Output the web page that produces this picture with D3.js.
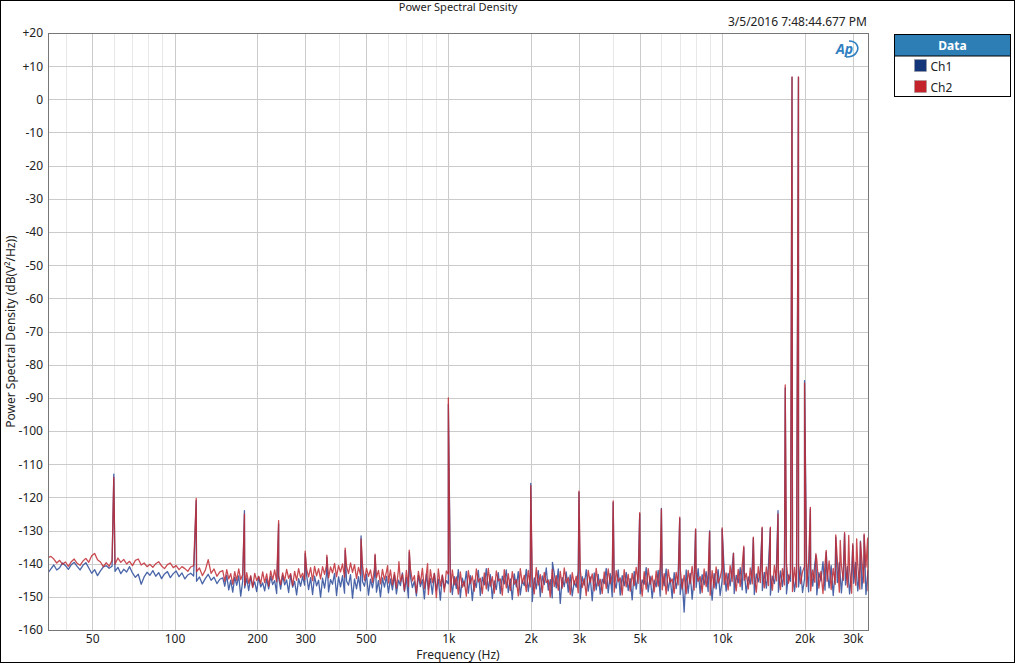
<!DOCTYPE html>
<html>
<head>
<meta charset="utf-8">
<script src="https://cdn.jsdelivr.net/npm/d3@7"></script>
<style>
  body { margin: 0; background: #fff; }
  text { font-family: "Noto Sans", "DejaVu Sans", sans-serif; fill: #222; }
</style>
</head>
<body>
<script>
// frequency span of the plot and the edges of the noise floor segments (Hz)
var freqDomain = [34.5, 34100];
var segmentEdges = [34.5, 150, 1000, 10000, 20000, 34100];

// noise floor, one array per segment, dB(V²/Hz)
var ch1Low = [-142.8,-141.6,-140.4,-141.9,-141.2,-139.8,-140.6,-141.7,-140.3,-139.6,
  -140.8,-141.9,-140.5,-139.7,-141.3,-142.9,-141.8,-143.6,-142.2,-141.0,
  -140.6,-141.4,-140.8,-142.3,-141.1,-143.0,-141.7,-142.5,-140.9,-142.8,
  -144.1,-143.2,-146.2,-144.0,-142.6,-143.5,-142.1,-143.8,-142.7,-144.5,
  -143.1,-142.4,-144.2,-143.0,-142.2,-143.9,-142.8,-144.6,-143.4,-142.9,
  -143.7,-145.3,-144.0,-146.1,-144.5,-143.2,-145.0,-144.1,-146.0,-144.7];
var ch2Low = [-138.2,-137.8,-138.6,-139.8,-139.0,-140.2,-139.5,-140.8,-139.4,-138.6,
  -139.9,-140.5,-139.2,-138.4,-139.6,-137.6,-136.9,-138.8,-139.5,-140.9,
  -139.7,-140.8,-139.0,-140.2,-138.3,-139.6,-138.7,-140.1,-139.3,-140.6,
  -139.0,-138.6,-140.4,-139.8,-140.9,-140.2,-141.1,-140.0,-139.4,-140.7,
  -141.5,-140.3,-139.8,-141.2,-140.6,-141.8,-140.9,-141.5,-142.3,-141.0,
  -140.6,-142.4,-141.3,-143.6,-142.0,-138.8,-142.9,-141.6,-143.8,-142.5];

var ch1Mid = [-144.3,-146.8,-143.5,-147.9,-145.0,-148.6,-144.1,-146.5,-143.7,-149.8,
  -145.2,-147.3,-144.4,-148.1,-143.9,-146.9,-145.5,-148.4,-144.0,-147.0,
  -145.8,-148.2,-144.6,-147.6,-143.8,-146.3,-145.1,-149.0,-144.2,-147.7,
  -143.6,-146.4,-144.9,-148.7,-143.4,-147.1,-145.3,-149.4,-144.5,-146.8,-143.9,
  -146.5,-143.5,-147.8,-144.2,-149.3,-143.8,-146.7,-145.0,-150.1,-144.4,
  -147.4,-143.1,-148.5,-144.8,-146.2,-142.9,-149.6,-144.0,-147.0,-143.6,
  -148.9,-145.2,-146.5,-143.3,-150.4,-144.6,-147.6,-143.9,-148.2,-145.4,
  -146.8,-143.2,-149.5,-144.7,-147.3,-143.7,-148.6,-145.1,-150.0,-144.3,
  -147.1,-143.8,-148.8,
  -144.6,-147.9,-143.4,-149.1,-145.0,-146.6,-142.8,-148.4,-144.2,-150.3,
  -143.9,-147.2,-145.3,-149.7,-143.5,-146.9,-144.8,-150.6,-143.1,-147.8,
  -144.5,-149.2,-142.9,-148.0,-144.7,-151.0,-143.6,-147.4,-145.1];
var ch2Mid = [-142.1,-145.3,-141.8,-144.6,-143.0,-146.2,-142.4,-145.0,-141.6,-144.8,
  -143.3,-146.5,-142.7,-145.9,-143.6,-147.2,-142.9,-145.1,-143.8,-146.0,
  -142.5,-145.7,-143.1,-146.8,-142.2,-144.9,-141.9,-145.4,-143.5,-146.3,
  -142.8,-145.2,-141.7,-144.4,-143.0,-146.6,-142.3,-145.0,-141.5,-144.2,-142.9,
  -144.8,-141.6,-144.0,-141.2,-145.1,-140.8,-143.7,-141.5,-144.6,-140.9,
  -143.2,-140.4,-144.3,-141.0,-142.8,-139.9,-143.9,-140.6,-142.5,-140.1,
  -144.1,-140.7,-143.0,-139.8,-142.6,-140.3,-144.5,-141.1,-143.4,-140.5,
  -145.0,-141.4,-143.8,-141.9,-145.6,-141.3,-144.2,-142.0,-146.1,-141.7,
  -144.9,-142.4,-145.8,
  -141.9,-146.4,-142.6,-147.3,-141.8,-145.5,-143.2,-148.1,-142.0,-146.9,
  -141.5,-145.2,-143.6,-148.8,-142.3,-146.0,-141.4,-147.5,-143.0,-149.3,
  -141.8,-145.7,-142.9,-150.2,-141.6,-146.8,-143.4,-148.5,-142.2];

var ch1High = [-146.1,-142.6,-149.3,-143.9,-147.5,-141.8,-150.2,-144.4,-146.8,-142.3,
  -148.9,-143.6,-151.1,-145.0,-147.2,-142.0,-149.6,-144.1,-146.4,-141.5,
  -148.2,-143.3,-150.5,-145.2,-147.8,-142.7,-149.0,-143.8,-146.1,-141.9,
  -148.7,-144.6,-150.8,-143.1,-147.0,-142.4,-149.4,-145.1,-146.6,-141.7,
  -148.4,-143.5,-151.4,-144.3,-147.6,-142.1,-149.9,-143.7,-146.3,-141.3,
  -148.0,-144.8,-150.3,-142.9,-147.3,-141.6,-152.0,-144.2,-146.9,-142.5,
  -148.6,-143.4,-149.7,-145.3,-147.1,-142.2,-150.6,-143.9,-146.5,-141.8,
  -148.3,-144.0,-151.2,-142.8,-147.9,-143.2,-149.2,-144.7,-146.0,-141.4,
  -148.8,-143.0,-150.0,-145.4,-147.4,-141.9,-149.5,-143.6,-146.7,-142.6,
  -148.1,-144.5,-150.9,-142.3,-147.7,-143.1,-149.1,-144.9,-146.2,-141.2,
  -148.5,-143.8,-150.4,-145.0,-147.0,-142.0,-149.8,-143.4,-146.6,-141.6,
  -148.2,-144.3,-150.4,-142.7,-147.5,-143.5,-149.3,-144.6,-154.6,-141.9,
  -148.9,-142.9,-150.7,-144.1,-147.2,-141.5,-149.0,-143.3,-146.4,-142.4,
  -148.4,-144.2,-151.0,-143.0,-147.6,-141.8,-149.6];
var ch2High = [-143.2,-148.6,-141.9,-146.4,-144.0,-149.2,-142.5,-147.1,-145.3,-149.8,
  -142.1,-146.0,-143.7,-148.3,-141.6,-145.5,-144.4,-149.0,-142.8,-147.6,
  -141.4,-146.8,-143.9,-148.9,-142.2,-145.2,-144.6,-149.5,-141.8,-147.3,
  -143.0,-148.1,-142.4,-146.2,-144.8,-149.7,-141.5,-145.9,-143.5,-148.4,
  -142.0,-147.0,-144.2,-149.1,-141.2,-146.5,-143.3,-148.7,-142.6,-145.7,
  -144.9,-150.1,-141.7,-146.9,-143.6,-148.0,-142.3,-147.4,-141.3,-145.8,
  -144.1,-149.3,-142.7,-146.3,-143.8,-148.8,-141.9,-147.2,-144.5,-149.6,
  -142.0,-145.6,-143.1,-148.2,-141.4,-146.7,-144.7,-149.0,-142.5,-147.5,
  -141.6,-146.1,-143.4,-148.6,-142.1,-145.4,-144.3,-149.4,-141.8,-147.0,
  -143.2,-148.3,-142.9,-146.6,-141.1,-145.9,-144.0,-149.8,-142.4,-147.7,
  -141.5,-146.2,-143.7,-148.5,-142.2,-146.8,-140.9,-147.9,-143.0,-149.2,
  -141.8,-145.7,-144.6,-148.9,-142.6,-146.4,-141.3,-147.6,-143.5,-149.1,
  -142.0,-146.0,-140.8,-148.0,-142.8,-145.3,-143.9,
  -148.7,-141.6,-146.9,-143.3,-149.5,-142.1,-147.3,-141.0,-145.8,-144.2];

var ch1Top = [-145.1,-141.6,-148.3,-142.9,-146.7,-140.8,-149.0,-143.5,-145.8,-141.2,
  -147.9,-142.4,-148.8,-144.0,-146.2,-140.5,-149.3,-143.1,-145.5,-141.9,
  -148.1,-142.6,-147.4,-140.9,-149.5,-143.8,-146.0,-141.3,-148.6,-142.2,
  -146.9,-140.7,-149.1,-143.4,-145.3,-141.8,-148.4,-142.8,-147.0,-141.0,
  -148.7];
var ch2Top = [-141.2,-146.3,-142.8,-147.9,-140.6,-145.4,-143.5,-148.2,-141.7,-146.9,
  -140.4,-145.0,-142.9,-147.6,-141.3,-146.1,-143.8,-148.6,-140.9,-145.7,
  -142.2,-147.3,-141.0,-146.6,-143.1,-148.0,-140.5,-145.2,-142.5,-147.8,
  -141.5,-146.4,-139.9,-145.9,-142.7,-148.4,-141.1,-147.1,-140.3,-146.0,
  -142.4];

var ch1Air = [-144.6,-139.9,-148.5,-141.3,-146.8,-140.2,-149.4,-142.7,-145.2,-139.4,
  -148.0,-141.8,-147.3,-140.6,-149.6,-142.1,-145.7,-139.7,-148.8,-141.0,
  -146.4,-140.9,-149.1,-142.5,-145.9,-139.6,-148.2,-141.5,-147.6,-140.3,
  -149.3,-142.0];
var ch2Air = [-140.8,-146.9,-139.5,-148.2,-141.9,-145.6,-138.9,-147.4,-142.3,-149.0,
  -140.1,-145.3,-139.2,-147.8,-141.4,-146.2,-138.6,-148.6,-140.7,-145.0,
  -139.8,-147.1,-141.6,-148.9,-139.0,-146.5,-140.4,-147.7,-138.8,-145.8,
  -141.0,-148.3];

// tones, harmonics and IMD products: [Hz, dB]
var ch1Spikes = [[60,-113],[120,-121],[180,-124],[240,-128],[300,-137],[360,-138],
  [420,-136],[480,-131.6],[540,-137.5],[720,-136.5],[1000,-92],[2000,-115.8],
  [2400,-139.6],[3000,-118.5],[4000,-121.5],[5000,-125],[6000,-123.3],[7000,-126.4],
  [8000,-129.8],[9000,-130.1],[10000,-129.6],[11000,-136.8],[12000,-135.2],
  [13000,-132.3],[14000,-129.3],[15000,-129.4],[16000,-124],[17000,-87],
  [18000,6.6],[19000,6.6],[20000,-84.8],[21000,-123.5],[22000,-137.5],[24000,-136.5],
  [26000,-132],[28000,-131],[30000,-134.5],[32000,-133.2],[33000,-131.5]];
var ch2Spikes = [[60,-114],[120,-120.3],[180,-125],[240,-127],[300,-136.2],[360,-137.4],
  [420,-135.3],[480,-132.5],[540,-137.1],[600,-140.6],[660,-139.4],[720,-135.9],
  [840,-140],[1000,-90],[2000,-116.5],[3000,-118.1],[4000,-121.1],[5000,-124.6],
  [6000,-123.6],[7000,-126],[8000,-129.5],[9000,-130.4],[10000,-129.2],[11000,-136.9],
  [12000,-134.7],[13000,-132],[14000,-129],[15000,-129],[16000,-125],[17000,-86.1],
  [18000,6.8],[19000,6.8],[20000,-85.6],[21000,-123],[22000,-137],[24000,-136],
  [26000,-131.3],[27000,-133],[28000,-130.6],[29000,-131.5],[30000,-134],[31000,-132.5],
  [32000,-133.5],[33000,-131],[34000,-132.3]];

var yTicks = [20, 10, 0, -10, -20, -30, -40, -50, -60, -70, -80, -90, -100, -110, -120, -130, -140, -150, -160];
var xMajor = [50, 100, 200, 300, 500, 1000, 2000, 3000, 5000, 10000, 20000, 30000];
var xLabels = ["50", "100", "200", "300", "500", "1k", "2k", "3k", "5k", "10k", "20k", "30k"];
var xMinor = [40, 60, 70, 80, 90, 400, 600, 700, 800, 900, 4000, 6000, 7000, 8000, 9000];

var W = 1015, H = 663;
var plot = { left: 48, right: 868, top: 33, bottom: 630 };

var svg = d3.select("body").append("svg").attr("width", W).attr("height", H);

svg.append("rect").attr("x", 0.5).attr("y", 0.5).attr("width", W - 1).attr("height", H - 1)
  .attr("fill", "#fff").attr("stroke", "#000");

var x = d3.scaleLog().domain(freqDomain).range([plot.left, plot.right]);
var y = d3.scaleLinear().domain([-160, 20]).range([plot.bottom, plot.top]);

// grid
svg.append("g").selectAll("line").data(xMinor).enter().append("line")
  .attr("x1", function (d) { return Math.round(x(d)) + 0.5; })
  .attr("x2", function (d) { return Math.round(x(d)) + 0.5; })
  .attr("y1", plot.top).attr("y2", plot.bottom)
  .attr("stroke", "#e8e8e8");
svg.append("g").selectAll("line").data(xMajor).enter().append("line")
  .attr("x1", function (d) { return Math.round(x(d)) + 0.5; })
  .attr("x2", function (d) { return Math.round(x(d)) + 0.5; })
  .attr("y1", plot.top).attr("y2", plot.bottom)
  .attr("stroke", "#cbcbcb");
svg.append("g").selectAll("line").data(yTicks).enter().append("line")
  .attr("x1", plot.left).attr("x2", plot.right)
  .attr("y1", function (d) { return Math.round(y(d)) + 0.5; })
  .attr("y2", function (d) { return Math.round(y(d)) + 0.5; })
  .attr("stroke", "#cbcbcb");

// build one trace from the segment noise plus the spikes
function buildTrace(segments, spikes) {
  var pts = [];
  segments.forEach(function (vals, s) {
    var f0 = segmentEdges[s], f1 = segmentEdges[s + 1];
    var last = s === segments.length - 1;
    var n = last ? vals.length - 1 : vals.length;
    vals.forEach(function (v, i) {
      pts.push([f0 * Math.pow(f1 / f0, i / n), v]);
    });
  });
  spikes.forEach(function (p) { pts.push(p); });
  pts.sort(function (a, b) { return a[0] - b[0]; });
  return pts;
}

var ch1 = buildTrace([ch1Low, ch1Mid, ch1High, ch1Top, ch1Air], ch1Spikes);
var ch2 = buildTrace([ch2Low, ch2Mid, ch2High, ch2Top, ch2Air], ch2Spikes);

svg.append("clipPath").attr("id", "clip").append("rect")
  .attr("x", plot.left).attr("y", plot.top)
  .attr("width", plot.right - plot.left).attr("height", plot.bottom - plot.top);

var line = d3.line()
  .x(function (d) { return x(d[0]); })
  .y(function (d) { return y(d[1]); });

var traces = svg.append("g").attr("clip-path", "url(#clip)");
traces.append("path").datum(ch1).attr("d", line)
  .attr("fill", "none").attr("stroke", "#35539e").attr("stroke-width", 1.3)
  .attr("stroke-opacity", 0.9).attr("stroke-linejoin", "round");
traces.append("path").datum(ch2).attr("d", line)
  .attr("fill", "none").attr("stroke", "#bf2a32").attr("stroke-width", 1.3)
  .attr("stroke-opacity", 0.85).attr("stroke-linejoin", "round");

// frame
svg.append("rect").attr("x", plot.left + 0.5).attr("y", plot.top + 0.5)
  .attr("width", plot.right - plot.left).attr("height", plot.bottom - plot.top)
  .attr("fill", "none").attr("stroke", "#777");

// axes
var yAxis = d3.axisLeft(y).tickValues(yTicks).tickSize(0).tickPadding(5)
  .tickFormat(function (d) { return d > 0 ? "+" + d : String(d); });
var gy = svg.append("g").attr("transform", "translate(" + plot.left + ",0)").call(yAxis);
gy.select(".domain").remove();
gy.selectAll("text").attr("font-size", 12).style("font-family", "\"Noto Sans\", sans-serif").attr("fill", "#222");

var xAxis = d3.axisBottom(x).tickValues(xMajor).tickSize(0).tickPadding(4)
  .tickFormat(function (d, i) { return xLabels[i]; });
var gx = svg.append("g").attr("transform", "translate(0," + plot.bottom + ")").call(xAxis);
gx.select(".domain").remove();
gx.selectAll("text").attr("font-size", 12).style("font-family", "\"Noto Sans\", sans-serif").attr("fill", "#222");

// titles
svg.append("text").attr("x", (plot.left + plot.right) / 2).attr("y", 11)
  .attr("text-anchor", "middle").attr("font-size", 11).text("Power Spectral Density");
svg.append("text").attr("x", plot.right - 1).attr("y", 26)
  .attr("text-anchor", "end").attr("font-size", 12).text("3/5/2016 7:48:44.677 PM");
svg.append("text").attr("x", (plot.left + plot.right) / 2).attr("y", 658.5)
  .attr("text-anchor", "middle").attr("font-size", 12).text("Frequency (Hz)");
svg.append("text").attr("transform", "translate(15," + (plot.top + plot.bottom) / 2 + ") rotate(-90)")
  .attr("text-anchor", "middle").attr("font-size", 12).text("Power Spectral Density (dB(V²/Hz))");

// AP logo
var logo = svg.append("g").attr("transform", "translate(835,40)");
logo.append("path").attr("d", "M14,1 C22,1 25,8 21,13 C19,16 15,17 11,17")
  .attr("fill", "none").attr("stroke", "#2f7fc1").attr("stroke-width", 1.6);
logo.append("text").attr("x", 1).attr("y", 14).attr("font-size", 14).attr("font-weight", "bold")
  .attr("font-style", "italic").attr("fill", "#2f7fc1").style("fill", "#2f7fc1").text("Ap");

// legend
var legend = svg.append("g").attr("transform", "translate(894.5,34.5)");
legend.append("rect").attr("width", 116).attr("height", 62).attr("fill", "#fff").attr("stroke", "#000");
legend.append("rect").attr("x", 0.5).attr("y", 0.5).attr("width", 115).attr("height", 21)
  .attr("fill", "#2e7eb6");
legend.append("line").attr("x1", 0).attr("x2", 116).attr("y1", 21.5).attr("y2", 21.5).attr("stroke", "#000");
legend.append("text").attr("x", 58).attr("y", 15).attr("text-anchor", "middle")
  .attr("font-size", 12).attr("font-weight", "bold").style("fill", "#fff").text("Data");
var items = [["Ch1", "#13357a"], ["Ch2", "#c4232b"]];
items.forEach(function (it, i) {
  legend.append("rect").attr("x", 20).attr("y", 25 + i * 21).attr("width", 12).attr("height", 12)
    .attr("fill", it[1]).attr("stroke", "#999").attr("stroke-width", 0.5);
  legend.append("text").attr("x", 36).attr("y", 36 + i * 21).attr("font-size", 12).text(it[0]);
});
</script>
</body>
</html>
